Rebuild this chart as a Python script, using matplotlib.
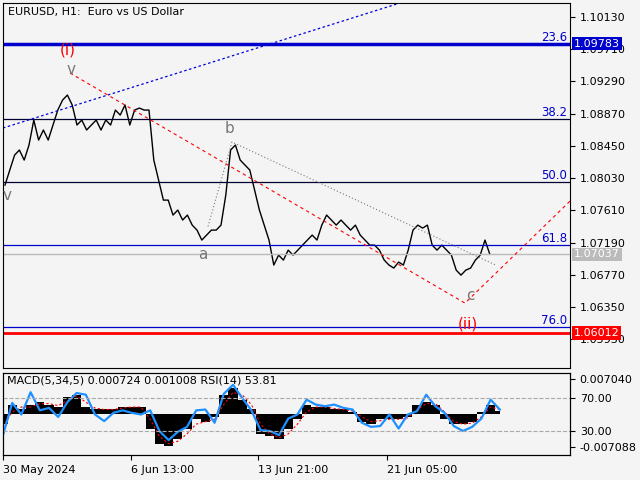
import numpy as np
import matplotlib.pyplot as plt

# ---- data ----
close = [1.07939, 1.08135, 1.08330, 1.08396, 1.08265, 1.08461, 1.08787, 1.08526, 1.08657, 1.08526,
         1.08722, 1.08917, 1.09048, 1.09113, 1.08983, 1.08722, 1.08787, 1.08657, 1.08722, 1.08787,
         1.08657, 1.08787, 1.08722, 1.08917, 1.08852, 1.08983, 1.08722, 1.08917, 1.08943, 1.08917,
         1.08917, 1.08265, 1.08004, 1.07743, 1.07743, 1.07548, 1.07613, 1.07483, 1.07548, 1.07417,
         1.07352, 1.07222, 1.07287, 1.07352, 1.07352, 1.07417, 1.07809, 1.08396, 1.08461, 1.08265,
         1.08200, 1.08135, 1.07874, 1.07613, 1.07417, 1.07222, 1.06896, 1.07026, 1.06961, 1.07091,
         1.07026, 1.07091, 1.07156, 1.07222, 1.07287, 1.07222, 1.07417, 1.07548, 1.07483, 1.07417,
         1.07483, 1.07417, 1.07352, 1.07417, 1.07287, 1.07222, 1.07156, 1.07156, 1.07091, 1.06961,
         1.06896, 1.06857, 1.06935, 1.06896, 1.07091, 1.07352, 1.07417, 1.07378, 1.07417, 1.07156,
         1.07091, 1.07156, 1.07091, 1.07026, 1.06830, 1.06765, 1.06830, 1.06857, 1.06961, 1.07026,
         1.07222, 1.07037]
macd = [-2.0, 2.0, 1.0, 2.0, 2.5, 2.0, 1.5, 3.5, 4.0, 1.5, 1.0, 1.0, 1.0, 1.5, 1.5, 1.5,
        -3.0, -6.0, -6.5, -5.0, -3.0, -1.0, -1.5, -0.5, 4.0, 5.5, 3.0, 1.0, -4.0, -4.5, -5.0, -3.0,
        -1.0, 2.0, 1.5, 1.5, 1.0, 1.0, 0.5, -1.5, -2.0, -1.0, -1.0, -1.0, -0.5, 2.0, 2.5, 2.0,
        -1.0, -2.0, -2.0, -1.5, 0.5, 2.0, 0.7]
signal = [-2.5, 0.5, 1.5, 1.5, 2.2, 2.2, 1.8, 2.8, 3.8, 2.5, 1.3, 1.0, 1.0, 1.3, 1.5, 1.5,
          -1.0, -4.5, -6.0, -5.5, -4.0, -2.0, -1.5, -1.0, 2.0, 4.5, 4.0, 2.0, -2.0, -4.0, -4.8, -4.0,
          -2.0, 0.5, 1.5, 1.5, 1.2, 1.0, 0.7, -0.5, -1.5, -1.3, -1.0, -1.0, -0.7, 1.0, 2.2, 2.2,
          0.5, -1.5, -2.0, -1.8, -0.5, 1.5, 1.0]
rsi = [25, 64, 50, 77, 55, 58, 47, 65, 76, 74, 50, 42, 52, 55, 52, 50, 55, 30, 19, 29, 35, 55, 56, 40,
       75, 86, 70, 55, 31, 30, 25, 45, 50, 68, 62, 60, 62, 58, 56, 40, 35, 36, 50, 33, 50, 54,
       74, 60, 52, 36, 30, 35, 45, 68, 56]
tick_pos = [3, 131, 258, 387]
tick_labels = ["30 May 2024", "6 Jun 13:00", "13 Jun 21:00", "21 Jun 05:00"]
price_ticks = [1.10130, 1.09710, 1.09290, 1.08870, 1.08450, 1.08030, 1.07610, 1.07190,
               1.06770, 1.06350, 1.05930]
fib_levels = {"23.6": 1.09783, "38.2": 1.08804, "50.0": 1.07983, "61.8": 1.07160, "76.0": 1.06089}
res_price, sup_price, last_price = 1.09783, 1.06012, 1.07037

bg = "#f4f4f4"
fig = plt.figure(figsize=(6.4, 4.8), dpi=100, facecolor=bg)
ax = fig.add_axes([3/640, 112/480, 567/640, 365/480], facecolor=bg)
ax2 = fig.add_axes([3/640, 25/480, 567/640, 82/480], facecolor=bg)

xp = 5 + 4.8 * np.arange(len(close))
ax.plot(xp, close, color="black", lw=1)
ax.set_xlim(3, 570)
ax.set_ylim(1.05554, 1.10313)

# levels
ax.axhline(res_price, color="#0000cc", lw=2.5)
ax.axhline(sup_price, color="red", lw=2)
ax.axhline(last_price, color="#bbbbbb", lw=1)
for name, val in fib_levels.items():
    ax.axhline(val, color="#0000cc" if name in ("61.8", "76.0", "23.6") else "#000033", lw=0.9)
    ax.text(567, val, name, color="#0000cc", ha="right", va="bottom", fontsize=8.5)

# trend lines
ax.plot([3, 400], [1.08683, 1.10313], color="#0000dd", ls=(0, (2, 2)), lw=0.9)
ax.plot([70, 465, 570], [1.09400, 1.06400, 1.07730], color="red", ls=(0, (3, 3)), lw=0.8)
ax.plot([208, 232, 495], [1.07400, 1.08500, 1.06900], color="#777777", ls=(0, (1, 2)), lw=0.8)

for x, y, s, c in [(7, 1.07800, "v", "#777777"), (68, 1.09700, "(i)", "red"),
                   (71, 1.09450, "v", "#777777"), (230, 1.08680, "b", "#777777"),
                   (203, 1.07030, "a", "#777777"), (470, 1.06500, "c", "#777777"),
                   (468, 1.06130, "(ii)", "red")]:
    ax.text(x, y, s, color=c, fontsize=11, ha="center", va="center")

ax.text(8, 1.10200, "EURUSD, H1:  Euro vs US Dollar", fontsize=8, va="center")
ax.yaxis.tick_right()
ax.set_yticks(price_ticks)
ax.set_yticklabels([f"{p:.5f}" for p in price_ticks], fontsize=8)
ax.set_xticks([])
for val, col, fc in [(res_price, "white", "#0000cc"), (sup_price, "white", "red"),
                     (last_price, "white", "#bbbbbb")]:
    ax.text(574, val, f"{val:.5f}", color=col, fontsize=8, va="center", ha="left",
            bbox=dict(boxstyle="square,pad=0.15", fc=fc, ec="none"), clip_on=False)

# indicator panel
xm = 3 + 9.2 * np.arange(len(macd))
ax3 = ax2.twinx()
ax2.fill_between(xm, 0, np.array(macd) * 1e-3, color="black", step="mid", lw=0)
ax2.plot(xm, np.array(signal) * 1e-3, color="red", ls=(0, (2, 2)), lw=0.8)
ax2.set_ylim(-0.00832, 0.00847)
ax2.set_xlim(3, 570)
ax2.set_yticks([])
ax2.set_xticks(tick_pos)
ax2.set_xticklabels(tick_labels, fontsize=8, ha="left")
ax3.set_ylim(0.9, 100.3)
ax3.set_xlim(3, 570)
ax3.plot(xm, rsi, color="#1e90ff", lw=1.6)
for lv in (70, 30):
    ax3.axhline(lv, color="#aaaaaa", ls="--", lw=0.8)
ax3.set_yticks([92.5, 70, 30, 10.5])
ax3.set_yticklabels(["0.007040", "70.00", "30.00", "-0.007088"], fontsize=8)
ax2.text(4/567, 0.97, "MACD(5,34,5) 0.000724 0.001008 RSI(14) 53.81", transform=ax2.transAxes,
         fontsize=8, va="top")

fig.savefig("out.png", dpi=100, facecolor=bg)
